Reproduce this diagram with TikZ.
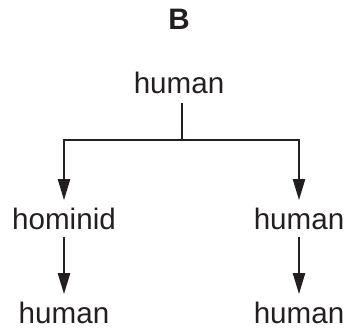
\documentclass[tikz,border=0pt]{standalone}
\usepackage{fontspec}
\setmainfont{Liberation Sans}
\usepackage{tikz}
\usetikzlibrary{
    arrows.meta,
    positioning
}
\definecolor{ink}{RGB}{35,31,32}

\begin{document}
\begin{tikzpicture}[x=0.5pt, y=-0.5pt,
    font=\fontsize{14.8}{17}\selectfont,
    term/.style={
        text=ink,
        inner sep=3.5pt,
        anchor=base
    },
    title/.style={
        text=ink,
        font=\fontsize{14.8}{17}\selectfont\bfseries,
        anchor=base
    },
    line/.style={line width=1.1pt, ink},
    arrow/.style={-{Triangle[length=10.5pt, width=6pt]}, line width=1.1pt, ink}
]
\useasboundingbox (0,0) rectangle (347,329);

% ===== heading =====
\node[title] (panel) at (179,29) {B};

% ===== ROW 1: root =====
\node[term, inner sep=4.5pt] (root) at (179,93) {human};
\coordinate (split) at (182,140);

% ===== ROW 2: branches =====
\node[term] (hominid) at (64,229) {hominid};
\node[term] (midhuman) at (299,229) {human};

% ===== ROW 3: descendants =====
\node[term] (lefthuman) at (64,323) {human};
\node[term] (righthuman) at (299,323) {human};

\draw[line] (root.south -| split) -- (split);
\draw[arrow] (split) -| (hominid);
\draw[arrow] (split) -| (midhuman);
\draw[arrow] (hominid) -- (lefthuman);
\draw[arrow] (midhuman) -- (righthuman);

\end{tikzpicture}
\end{document}
